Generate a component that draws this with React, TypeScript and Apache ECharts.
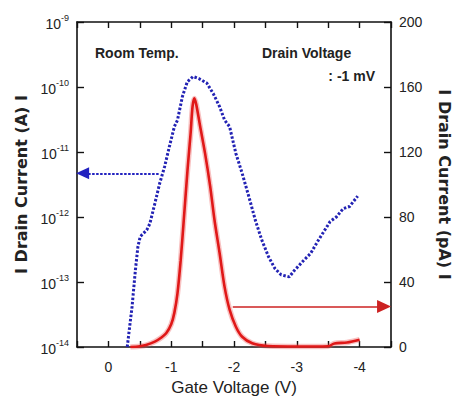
import React, { useEffect, useRef } from "react";
import * as echarts from "echarts";

// Gate voltage (V) and |drain current| (A) — blue dotted curve, left log axis
const blueV = [-0.3, -0.377, -0.43, -0.47, -0.507, -0.61, -0.66, -0.74, -0.817, -0.894, -0.97, -1.05, -1.1, -1.178, -1.256, -1.349, -1.437, -1.566, -1.67, -1.77, -1.85, -1.93, -2.03, -2.13, -2.24, -2.34, -2.44, -2.55, -2.65, -2.75, -2.88, -2.96, -3.12, -3.22, -3.35, -3.48, -3.53, -3.63, -3.74, -3.84, -3.97];
const blueI = [1e-14, 4.2e-14, 1.53e-13, 3.5e-13, 5.0e-13, 6.3e-13, 7.9e-13, 1.62e-12, 3.3e-12, 5.9e-12, 1.2e-11, 2.45e-11, 3.1e-11, 7.1e-11, 1.2e-10, 1.45e-10, 1.35e-10, 1.15e-10, 7.9e-11, 5.0e-11, 3.1e-11, 2.45e-11, 9.5e-12, 4.7e-12, 2.0e-12, 8.9e-13, 4.5e-13, 2.45e-13, 1.62e-13, 1.29e-13, 1.2e-13, 1.5e-13, 2.2e-13, 2.75e-13, 4.5e-13, 7.1e-13, 8.5e-13, 1.0e-12, 1.35e-12, 1.45e-12, 2.1e-12];

// Gate voltage (V) and drain current (pA) — red solid curve, right linear axis
const redV = [-0.35, -0.5, -0.6, -0.74, -0.85, -0.92, -1.0, -1.05, -1.1, -1.15, -1.2, -1.26, -1.31, -1.34, -1.37, -1.4, -1.46, -1.54, -1.62, -1.69, -1.77, -1.85, -1.93, -2.03, -2.13, -2.29, -2.54, -3.0, -3.5, -3.6, -3.8, -4.0];
const redI = [0, 0.5, 1.2, 3.3, 6, 8.4, 14, 21, 33, 53, 78, 109, 132, 148, 153, 149, 136, 119, 99, 78, 58, 37, 23, 12.5, 6.3, 2.3, 0.6, 0.3, 0.5, 2.2, 2.8, 4.5];

// Axis ranges
const xRange = [-4.5, 0.5];
const leftRange = [1e-14, 1e-9];
const rightRange = [0, 200];

// Annotation arrows (data coordinates)
const blueArrowFrom = [-0.8, 4.7e-12];
const blueArrowTo = [0.41, 4.7e-12];
const redArrowFrom = [-1.98, 25];
const redArrowTo = [-4.39, 25];

const FONT = '"Liberation Sans", Arial, sans-serif';
const TITLE_FONT = '"DejaVu Sans", "Liberation Sans", sans-serif';

const mkLine = () => ({ show: true, onZero: false, lineStyle: { color: "#111", width: 1.6 } });
const mkTick = (len: number) => ({ show: true, inside: true, length: len, lineStyle: { color: "#111", width: 1.4 } });

export default function App() {
  const ref = useRef<HTMLDivElement>(null);
  useEffect(() => {
    if (!ref.current) return;
    const chart = echarts.init(ref.current, undefined, { renderer: "svg" });
    const redData = redV.map((v, i) => [v, redI[i]]);
    chart.setOption({
      animation: false,
      grid: { left: 77, right: 63, top: 22, bottom: 54 },
      xAxis: [
        {
          type: "value",
          min: xRange[0],
          max: xRange[1],
          interval: 0.5,
          inverse: true,
          position: "bottom",
          splitLine: { show: false },
          axisLine: mkLine(),
          axisTick: mkTick(6),
          name: "Gate Voltage (V)",
          nameLocation: "middle",
          nameGap: 32,
          nameTextStyle: { fontFamily: FONT, fontSize: 17, color: "#222" },
          axisLabel: {
            fontFamily: FONT,
            fontSize: 14,
            color: "#222",
            margin: 13,
            formatter: (v: number) => (Math.abs(v - Math.round(v)) < 1e-6 ? String(Math.round(v)) : ""),
          },
        },
        {
          type: "value",
          min: xRange[0],
          max: xRange[1],
          interval: 0.5,
          inverse: true,
          position: "top",
          splitLine: { show: false },
          axisLine: mkLine(),
          axisTick: mkTick(6),
          axisLabel: { show: false },
        },
      ],
      yAxis: [
        {
          type: "log",
          logBase: 10,
          min: leftRange[0],
          max: leftRange[1],
          interval: 1,
          position: "left",
          splitLine: { show: false },
          axisLine: mkLine(),
          axisTick: mkTick(7),
          name: "I Drain Current (A) I",
          nameLocation: "middle",
          nameGap: 46,
          nameRotate: 90,
          nameTextStyle: { fontFamily: TITLE_FONT, fontSize: 16, fontWeight: "bold", color: "#222" },
          axisLabel: {
            margin: 8,
            formatter: (v: number) => `{a|10}{b|${Math.round(Math.log10(v))}}`,
            rich: {
              a: { fontFamily: FONT, fontSize: 14, color: "#222", lineHeight: 18, verticalAlign: "bottom" },
              b: { fontFamily: FONT, fontSize: 9, color: "#222", lineHeight: 18, verticalAlign: "top" },
            },
          },
        },
        {
          type: "value",
          min: rightRange[0],
          max: rightRange[1],
          interval: 40,
          position: "right",
          splitLine: { show: false },
          axisLine: mkLine(),
          axisTick: mkTick(7),
          name: "I Drain Current (pA) I",
          nameLocation: "middle",
          nameGap: 45,
          nameRotate: -90,
          nameTextStyle: { fontFamily: TITLE_FONT, fontSize: 16, fontWeight: "bold", color: "#222" },
          axisLabel: { fontFamily: FONT, fontSize: 14, color: "#222", margin: 8 },
        },
      ],
      series: [
        {
          type: "line",
          xAxisIndex: 0,
          yAxisIndex: 0,
          data: blueV.map((v, i) => [v, blueI[i]]),
          showSymbol: false,
          symbol: "none",
          lineStyle: { color: "#2222b4", width: 3, type: [2.5, 1.8] },
          markLine: {
            silent: true,
            symbol: ["none", "triangle"],
            symbolSize: [12, 13],
            label: { show: false },
            lineStyle: { color: "#2222c0", width: 2.2, type: [2.5, 1.5] },
            data: [[{ coord: blueArrowFrom }, { coord: blueArrowTo }]],
          },
        },
        {
          // soft halo under the red curve
          type: "line",
          xAxisIndex: 0,
          yAxisIndex: 1,
          data: redData,
          showSymbol: false,
          symbol: "none",
          smooth: 0.3,
          silent: true,
          lineStyle: { color: "rgba(235,80,80,0.35)", width: 5.5 },
        },
        {
          type: "line",
          xAxisIndex: 0,
          yAxisIndex: 1,
          data: redData,
          showSymbol: false,
          symbol: "none",
          smooth: 0.3,
          lineStyle: { color: "#e01818", width: 2.6 },
          markLine: {
            silent: true,
            symbol: ["none", "triangle"],
            symbolSize: [13, 14],
            label: { show: false },
            lineStyle: { color: "#cc2222", width: 1.6, type: "solid" },
            data: [[{ coord: redArrowFrom }, { coord: redArrowTo }]],
          },
        },
      ],
      graphic: [
        { type: "text", left: 95, top: 46, style: { text: "Room Temp.", font: `bold 14px ${FONT}`, fill: "#222" } },
        { type: "text", left: 262, top: 46, style: { text: "Drain Voltage", font: `bold 14px ${FONT}`, fill: "#222" } },
        { type: "text", right: 85, top: 69, style: { text: ": -1 mV", font: `bold 14px ${FONT}`, fill: "#222" } },
      ],
    });
    return () => chart.dispose();
  }, []);
  return (
    <div
      ref={ref}
      style={{ position: "fixed", left: 0, top: 0, width: 460, height: 401, background: "#fff" }}
    />
  );
}
